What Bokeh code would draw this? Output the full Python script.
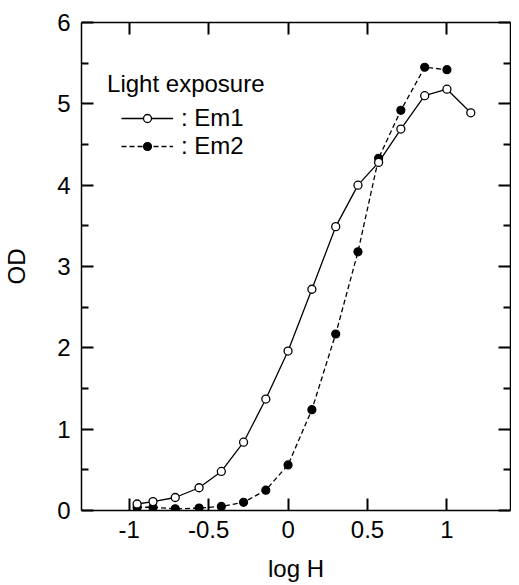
from bokeh.plotting import figure
from bokeh.models import (LinearAxis, Range1d, FixedTicker, Legend, LegendItem, Label)
from bokeh.embed import file_html
from bokeh.resources import INLINE

# ---- data ----
em1_x = [-0.95, -0.85, -0.71, -0.56, -0.42, -0.28, -0.14, 0.0, 0.15, 0.30, 0.44, 0.57, 0.71, 0.86, 1.00, 1.15]
em1_y = [0.08, 0.11, 0.16, 0.28, 0.48, 0.84, 1.37, 1.96, 2.72, 3.49, 4.00, 4.28, 4.69, 5.10, 5.18, 4.89]
em2_x = [-0.95, -0.85, -0.71, -0.56, -0.42, -0.28, -0.14, 0.0, 0.15, 0.30, 0.44, 0.57, 0.71, 0.86, 1.00]
em2_y = [0.04, 0.04, 0.02, 0.03, 0.05, 0.10, 0.25, 0.56, 1.24, 2.17, 3.18, 4.33, 4.92, 5.45, 5.42]

x_ticks = [-1, -0.5, 0, 0.5, 1]
x_tick_labels = ["-1", "-0.5", "0", "0.5", "1"]
y_ticks = [0, 1, 2, 3, 4, 5, 6]
y_minor = [0.5, 1.5, 2.5, 3.5, 4.5, 5.5]
y_tick_labels = ["0", "1", "2", "3", "4", "5", "6"]

FONT = "Liberation Sans"
FS = "24px"

p = figure(width=511, height=584, output_backend="svg", toolbar_location=None,
           x_range=Range1d(-1.3, 1.4), y_range=Range1d(0, 6),
           min_border_left=71, min_border_right=1, min_border_top=22, min_border_bottom=72,
           x_axis_label="log H", y_axis_label="OD")
p.grid.visible = False
p.outline_line_color = None
p.background_fill_color = "white"
p.border_fill_color = "white"


def style_axis(ax, ticks, minor, labels, show_labels=True):
    ax.ticker = FixedTicker(ticks=ticks, minor_ticks=minor)
    ax.axis_line_color = "black"
    ax.axis_line_width = 1.5
    ax.major_tick_in = 12
    ax.major_tick_out = 0
    ax.major_tick_line_width = 2
    ax.major_tick_line_color = "black"
    ax.minor_tick_in = 7
    ax.minor_tick_out = 0
    ax.minor_tick_line_width = 2
    ax.minor_tick_line_color = "black"
    if show_labels:
        ax.major_label_overrides = {t: l for t, l in zip(ticks, labels)}
        ax.major_label_text_font = FONT
        ax.major_label_text_font_size = FS
        ax.major_label_text_color = "black"
        ax.axis_label_text_font = FONT
        ax.axis_label_text_font_size = FS
        ax.axis_label_text_font_style = "normal"
        ax.axis_label_text_color = "black"
    else:
        ax.major_label_text_font_size = "0px"
        ax.major_label_text_color = None
        ax.major_label_standoff = 0


xb = p.xaxis[0]
yl = p.yaxis[0]
style_axis(xb, x_ticks, [], x_tick_labels)
style_axis(yl, y_ticks, y_minor, y_tick_labels)
xb.major_label_standoff = 10
xb.axis_label_standoff = 14
yl.major_label_standoff = 11
yl.axis_label_standoff = 24

top = LinearAxis()
style_axis(top, x_ticks, [], None, show_labels=False)
p.add_layout(top, "above")
right = LinearAxis()
style_axis(right, y_ticks, y_minor, None, show_labels=False)
p.add_layout(right, "right")

# ---- series ----
l2 = p.line(em2_x, em2_y, line_color="black", line_width=1.3, line_dash="5 3")
s2 = p.scatter(em2_x, em2_y, marker="circle", size=8, fill_color="black", line_color="black", line_width=1.2)
l1 = p.line(em1_x, em1_y, line_color="black", line_width=1.3)
s1 = p.scatter(em1_x, em1_y, marker="circle", size=8, fill_color="white", line_color="black", line_width=1.3)

# ---- legend ----
title = Label(x=-1.139, y=5.25, text="Light exposure", text_font=FONT, text_font_size=FS,
              text_color="black", text_baseline="alphabetic", text_align="left")
p.add_layout(title)

legend = Legend(items=[LegendItem(label=": Em1", renderers=[l1, s1]),
                       LegendItem(label=": Em2", renderers=[l2, s2])],
                location=(40, 350), padding=0, margin=0, spacing=0,
                border_line_color=None, background_fill_alpha=0,
                glyph_width=52, glyph_height=20, label_standoff=8,
                label_text_font=FONT, label_text_font_size=FS, label_text_color="black")
p.add_layout(legend)

open("out.html", "w").write(file_html(p, INLINE))
